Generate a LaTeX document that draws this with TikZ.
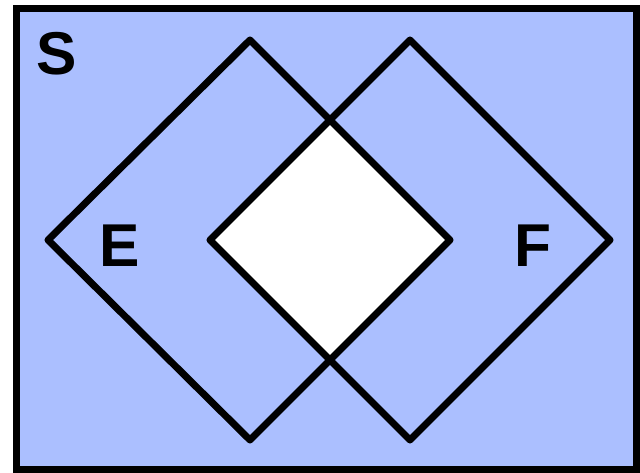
\documentclass[tikz,border=0pt]{standalone}
\usepackage{fontspec}
\setsansfont{Liberation Sans}
\usetikzlibrary{calc}
\definecolor{setblue}{RGB}{171,191,255}
\tikzset{setline/.style={line width=5pt,line join=round}}
\tikzset{setlbl/.style={font=\sffamily\bfseries\fontsize{43}{43}\selectfont,inner sep=0pt}}

\begin{document}
\begin{tikzpicture}[x=0.025cm,y=-0.025cm]
  \useasboundingbox (0,0) rectangle (640,473);
  % sample space
  \coordinate (STL) at (16.5,8.5);
  \coordinate (SBR) at (637,470);
  \draw[line width=5pt,fill=setblue] (STL) rectangle (SBR);
  % diamond E
  \coordinate (EL) at (48,240);
  \coordinate (ET) at (250,40);
  \coordinate (ER) at (450,240);
  \coordinate (EB) at (250,440);
  % diamond F
  \coordinate (FL) at (210,240);
  \coordinate (FT) at (410,40);
  \coordinate (FR) at (610,240);
  \coordinate (FB) at (410,440);
  % intersection left blank
  \fill[white] (FL) -- ($(ET)!0.4!(ER)$) -- (ER) -- ($(EB)!0.4!(ER)$) -- cycle;
  \draw[setline] (EL) -- (ET) -- (ER) -- (EB) -- cycle;
  \draw[setline] (FL) -- (FT) -- (FR) -- (FB) -- cycle;
  % labels
  \node[setlbl] (S) at (57,54) {S};
  \node[setlbl] (E) at (120,246) {E};
  \node[setlbl] (F) at (533,246) {F};
\end{tikzpicture}
\end{document}
